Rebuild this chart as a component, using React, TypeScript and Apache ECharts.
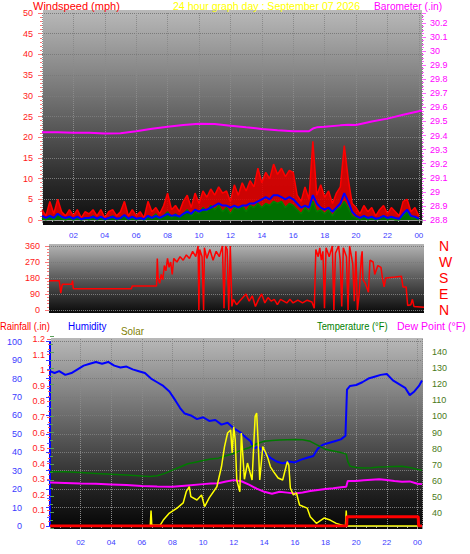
import React, { useEffect, useRef } from "react";
import * as echarts from "echarts";

// ---------- DATA ----------
const WIND_STEP_H = 0.25; // one sample every 15 minutes, from 00:00 to 24:00
const windGust = [
  2.5, 1.0, 4.5, 1.5, 5.0, 2.0, 1.0, 2.5, 1.0, 2.5, 0.5, 2.0, 1.5, 2.5, 1.0, 2.5,
  0.5, 2.0, 2.5, 1.0, 2.0, 4.5, 1.0, 2.5, 1.0, 2.0, 0.5, 4.5, 2.0, 3.0, 1.5, 3.5,
  6.5, 2.5, 3.5, 2.0, 4.5, 6.0, 3.0, 6.5, 4.0, 7.0, 5.5, 7.5, 6.0, 8.0, 6.5, 7.0,
  4.5, 8.5, 6.0, 9.0, 7.0, 9.5, 8.0, 12.5, 9.0, 11.5, 10.0, 13.5, 11.0, 12.5, 10.5, 12.0,
  11.5, 6.0, 4.5, 8.0, 5.0, 19.0, 6.0, 8.5, 5.5, 7.0, 4.0, 6.5, 8.0, 18.0, 10.0, 4.0,
  3.0, 1.5, 3.5, 2.0, 3.0, 1.0, 2.5, 3.5, 1.5, 3.0, 2.0, 1.0, 4.5, 5.0, 2.0, 3.0, 1.0,
];
const windAvg = [
  1.0, 0.5, 1.0, 0.5, 1.5, 0.8, 0.5, 0.8, 0.3, 0.8, 0.2, 0.5, 0.5, 0.8, 0.3, 0.8,
  0.2, 0.5, 0.8, 0.3, 0.5, 1.2, 0.3, 0.8, 0.3, 0.5, 0.2, 1.0, 0.5, 1.0, 0.5, 1.0,
  1.5, 1.0, 1.2, 0.8, 1.5, 2.0, 1.5, 2.5, 2.0, 2.5, 2.5, 3.0, 3.5, 4.0, 3.5, 3.5,
  3.0, 3.5, 3.0, 3.5, 3.5, 4.0, 4.0, 4.5, 5.0, 5.5, 5.0, 6.0, 6.0, 5.5, 5.0, 5.5,
  5.0, 4.0, 3.0, 3.5, 3.0, 6.0, 4.0, 3.0, 2.5, 3.0, 2.0, 3.0, 4.0, 6.5, 4.5, 2.0,
  1.0, 0.5, 1.0, 0.5, 0.8, 0.3, 0.5, 1.0, 0.5, 0.8, 0.5, 0.3, 1.5, 2.5, 1.0, 0.8, 0.3,
];
const windLow = [
  0.5, 0, 1.0, 0, 1.5, 0.5, 0, 0.5, 0, 0.5, 0, 0.5, 0, 1.0, 0, 0.5,
  0, 0.5, 1.0, 0, 0.5, 1.0, 0, 0.5, 0, 0.5, 0, 1.0, 0.5, 1.5, 0, 1.0,
  2.0, 0.5, 1.5, 0.5, 1.5, 2.5, 1.0, 2.0, 1.5, 3.0, 2.0, 3.5, 2.5, 3.5, 2.0, 3.0,
  1.5, 3.0, 2.5, 3.5, 2.0, 3.5, 3.0, 4.0, 3.0, 4.0, 3.5, 4.5, 4.0, 4.5, 3.0, 4.0,
  3.5, 2.5, 1.5, 3.0, 2.0, 4.5, 2.0, 2.5, 1.5, 2.5, 1.0, 2.5, 3.0, 4.5, 3.0, 1.0,
  0.5, 0, 1.0, 0, 0.5, 0, 0.5, 1.0, 0, 0.5, 0, 0, 1.0, 2.0, 0.5, 0.5, 0,
];

const baroTimes = [0, 1, 2, 3, 4, 5, 6, 7, 8, 9, 10, 11, 12, 13, 14, 15, 16, 17, 17.3, 17.5, 18, 19, 19.5, 20, 21, 22, 23, 24.2];
const baroValues = [
  29.423, 29.423, 29.42, 29.42, 29.415, 29.416, 29.43, 29.448, 29.462, 29.475,
  29.484, 29.482, 29.47, 29.458, 29.447, 29.438, 29.43, 29.43,
  29.452, 29.458, 29.462, 29.472, 29.476, 29.474, 29.5, 29.52, 29.548, 29.578,
];

const dirTimes = [
  0.45, 1.1, 1.2, 1.3, 1.9, 1.95, 2.0, 5.7, 5.75, 7.3,
  7.35, 7.4, 7.5, 7.6, 7.7, 7.8, 7.9, 8.0, 8.1, 8.2,
  8.3, 8.4, 8.6, 8.8, 9.0, 9.2, 9.4, 9.6, 9.8, 9.95,
  10.0, 10.05, 10.2, 10.3, 10.35, 10.5, 10.7, 10.9, 11.1, 11.3,
  11.5, 11.6, 11.7, 11.8, 11.9, 12.0, 12.1, 12.2, 12.4, 12.6,
  12.8, 13.0, 13.2, 13.4, 13.6, 13.8, 14.0, 14.2, 14.4, 14.6,
  14.8, 15.0, 15.2, 15.4, 15.6, 15.8, 16.0, 16.3, 16.6, 16.9,
  17.2, 17.35, 17.45, 17.6, 17.7, 17.8, 17.9, 18.0, 18.1, 18.3,
  18.5, 18.6, 18.7, 18.9, 19.0, 19.1, 19.2, 19.4, 19.5, 19.6,
  19.8, 19.9, 20.0, 20.1, 20.2, 20.35, 20.4, 20.45, 20.6, 20.8,
  20.9, 21.1, 21.2, 21.4, 21.6, 21.7, 21.8, 21.9, 22.5, 22.9,
  23.0, 23.2, 23.3, 23.5, 23.6, 23.7, 24.34,
];
const dirValues = [
  165, 165, 95, 145, 145, 165, 120, 120, 135, 135,
  290, 180, 150, 200, 170, 250, 220, 290, 240, 270,
  200, 290, 270, 300, 280, 310, 290, 330, 300, 360,
  0, 340, 300, 0, 350, 290, 340, 280, 330, 300,
  360, 10, 360, 340, 0, 360, 20, 60, 30, 50,
  70, 90, 50, 80, 20, 60, 90, 40, 70, 50,
  60, 30, 60, 50, 40, 60, 40, 55, 40, 55,
  45, 10, 340, 300, 350, 280, 330, 10, 350, 300,
  360, 0, 320, 360, 280, 20, 350, 300, 0, 360,
  260, 50, 330, 0, 80, 300, 330, 170, 150, 100,
  280, 270, 200, 250, 240, 175, 130, 180, 185, 190,
  130, 130, 25, 30, 60, 20, 15,
];

const humTimes = [
  0, 0.3, 0.6, 1, 1.4, 1.8, 2.2, 2.6, 3, 3.4, 3.8, 4.2, 4.6, 5, 5.4, 5.8, 6.2, 6.6, 7, 7.4,
  7.8, 8.2, 8.5, 8.8, 9.2, 9.6, 10, 10.4, 10.8, 11.2, 11.6, 12, 12.4, 12.8, 13.1, 13.3, 13.6, 14, 14.4, 14.8,
  15.2, 15.6, 16, 16.4, 16.8, 17.2, 17.5, 17.8, 18.2, 18.6, 19, 19.3, 19.4, 19.6, 20, 20.4, 20.8, 21.2, 21.6, 22,
  22.4, 22.8, 23.2, 23.5, 23.8, 24.1, 24.3,
];
const humValues = [
  84, 83, 84, 82, 83, 85, 87, 88, 89, 88, 89, 87, 86, 86.5, 85, 84, 83, 80, 78, 76,
  73, 68, 64, 61, 60, 58, 59, 57, 57.5, 55, 56, 53, 51, 48, 46, 42, 43, 40, 37, 35,
  34, 35, 34.5, 36, 37, 38, 42, 44, 45, 46, 47, 49, 74, 76, 76.5, 78, 80, 81, 82, 82.5,
  79, 77, 75, 71, 73, 76, 79,
];

const tempTimes = [
  0, 1, 2, 3, 4, 5, 6, 6.5, 7, 7.5, 8, 8.5, 9, 9.5, 10, 10.5, 11, 11.5, 12, 12.5, 13,
  13.5, 14, 14.5, 15, 15.5, 16, 16.5, 17, 17.5, 18, 18.5, 19, 19.35, 19.45, 19.6, 20,
  20.5, 21, 21.5, 22, 22.5, 23, 23.5, 24, 24.3,
];
const tempValues = [
  65.5, 65.5, 65, 64.5, 64, 63.5, 62.8, 62.5, 63, 64.5, 66.5, 68.5, 70.5, 71.5, 72.5, 73.5, 74, 75.5, 77, 79, 80.5,
  83, 84.5, 85, 85.3, 85.5, 85.7, 85.5, 84.5, 82, 79.5, 78.5, 77.5, 76.5, 72, 69, 68.2,
  67.8, 68, 68.5, 68.6, 68.8, 69, 68.2, 67, 66.5,
];

const dewTimes = [
  0, 1, 2, 3, 4, 5, 6, 7, 8, 9, 10, 10.5, 11, 11.5, 12, 12.5, 13, 13.5, 14, 14.5, 15,
  15.5, 16, 16.5, 17, 17.5, 18, 18.5, 19, 19.35, 19.45, 20, 20.5, 21, 21.5, 22, 22.5, 23, 23.5, 24, 24.3,
];
const dewValues = [
  58.8, 58.5, 58.2, 58, 57.6, 57.2, 56.6, 56.3, 56.2, 57, 57.8, 58.2, 58.4, 59.5, 60.3, 59.6, 57.5, 55, 53, 51.8, 53,
  52.5, 52, 52.6, 53.5, 54.2, 54.8, 55.2, 55.8, 56.2, 59.7, 59.8, 60.2, 60.6, 60.8, 60.4, 59.8, 59.3, 59.5, 58, 57.8,
];

const solarTimes = [
  0, 6.55, 6.6, 6.65, 7.2, 7.4, 7.8, 8.3, 8.7, 8.9,
  9.1, 9.2, 9.6, 9.9, 10.1, 10.4, 10.9, 11.2, 11.4, 11.6,
  11.8, 11.9, 12, 12.1, 12.2, 12.4, 12.5, 12.7, 12.9, 13.2,
  13.4, 13.5, 13.6, 13.7, 13.9, 14.2, 14.4, 14.6, 14.9, 15.2,
  15.5, 15.6, 15.7, 15.9, 16.1, 16.3, 16.8, 17, 17.4, 17.9,
  18.3, 18.7, 19.2, 19.3, 19.35, 19.4, 24.3,
];
const solarValues = [
  0, 0, 100, 5, 6, 38, 83, 115, 148, 220,
  252, 188, 167, 199, 124, 180, 252, 380, 509, 597,
  616, 468, 637, 552, 295, 220, 597, 300, 404, 295,
  702, 725, 533, 295, 509, 445, 380, 349, 308, 295,
  413, 390, 244, 199, 212, 135, 115, 60, 17, 51,
  38, 17, 2, 0, 100, 0, 0,
];

const rainTimes = [0, 19.38, 19.4, 24.05, 24.08, 24.3];
const rainValues = [0, 0, 0.06, 0.06, 0, 0];

const compassLabels: Record<number, string> = { 0: "N", 90: "E", 180: "S", 270: "W", 360: "N" };

// ---------- HELPERS ----------
const FONT = "'Liberation Sans', Arial, sans-serif";
const pairs = (t: number[], v: number[]) => t.map((x, i) => [x, v[i]]);
const windPairs = (v: number[]) => v.map((y, i) => [i * WIND_STEP_H, y]);
const hourLabel = (v: number) => {
  if (v <= 0 || Math.abs(v / 2 - Math.round(v / 2)) > 1e-6) return "";
  return String(Math.round(v) % 24).padStart(2, "0");
};
const decLabel = (v: number) => {
  if (Math.abs(v * 10 - Math.round(v * 10)) > 1e-4) return "";
  return String(Number(v.toFixed(1)));
};
const grad = (stops: [number, string][]) =>
  new echarts.graphic.LinearGradient(0, 0, 0, 1, stops.map(([offset, color]) => ({ offset, color })));

const dotted = (color = "#8a8a8a") => ({ show: true, lineStyle: { color, type: "dotted" as const, width: 1 } });

export default function App() {
  const ref = useRef<HTMLDivElement>(null);
  useEffect(() => {
    if (!ref.current) return;
    const chart = echarts.init(ref.current, undefined, { renderer: "svg" });

    const hourAxis = (gridIndex: number, min: number, max: number, labels: boolean, margin: number) => ({
      type: "value" as const,
      gridIndex,
      min,
      max,
      interval: 2,
      axisLabel: { show: labels, formatter: hourLabel, color: "#3c3cff", fontSize: 8, margin, fontFamily: FONT },
      axisLine: { show: labels, lineStyle: { color: "#9a9a9a" } },
      axisTick: { show: labels, length: 3, lineStyle: { color: "#9a9a9a" } },
      minorTick: { show: labels, splitNumber: 3, length: 2, lineStyle: { color: "#aaaaaa" } },
      splitLine: labels ? dotted() : { show: false },
    });

    const option: any = {
      animation: false,
      backgroundColor: "#ffffff",
      textStyle: { fontFamily: FONT },
      grid: [
        { left: 42, top: 13, width: 380, height: 207 },
        { left: 49, top: 246, width: 375, height: 64 },
        { left: 50, top: 339, width: 372, height: 187 },
        { left: 50, top: 341.7, width: 372, height: 184.3 },
        { left: 50, top: 336.3, width: 372, height: 192.4 },
      ],
      graphic: [
        { type: "rect", z: -10, shape: { x: 43, y: 10, width: 379, height: 215 },
          style: { fill: grad([[0, "#b9b9b9"], [0.45, "#6a6a6a"], [0.8, "#2a2a2a"], [1, "#0c0c0c"]]) } },
        { type: "rect", z: -10, shape: { x: 49, y: 244, width: 375, height: 69 },
          style: { fill: grad([[0, "#b5b5b5"], [0.5, "#5a5a5a"], [1, "#0a0a0a"]]) } },
        { type: "rect", z: -10, shape: { x: 51, y: 338, width: 372, height: 191 },
          style: { fill: grad([[0, "#b8b8b8"], [0.45, "#646464"], [0.8, "#222222"], [1, "#050505"]]) } },
        { type: "text", x: 33, y: 6, style: { text: "Windspeed (mph)", fill: "#ff0000", font: `11px ${FONT}`, align: "left", verticalAlign: "middle", textAlign: "left", textVerticalAlign: "middle" } },
        { type: "text", x: 173, y: 6, scaleX: 0.96, style: { text: "24 hour graph day : September 07 2026", fill: "#ffff00", font: `11px ${FONT}`, align: "left", verticalAlign: "middle", textAlign: "left", textVerticalAlign: "middle" } },
        { type: "text", x: 374, y: 6, scaleX: 0.93, style: { text: "Barometer (.in)", fill: "#ff00ff", font: `11px ${FONT}`, align: "left", verticalAlign: "middle", textAlign: "left", textVerticalAlign: "middle" } },
        { type: "text", x: 0, y: 326, scaleX: 0.85, style: { text: "Rainfall (.in)", fill: "#ff0000", font: `11px ${FONT}`, align: "left", verticalAlign: "middle", textAlign: "left", textVerticalAlign: "middle" } },
        { type: "text", x: 68, y: 326, scaleX: 0.9, style: { text: "Humidity", fill: "#0000ff", font: `11px ${FONT}`, align: "left", verticalAlign: "middle", textAlign: "left", textVerticalAlign: "middle" } },
        { type: "text", x: 121, y: 331, scaleX: 0.9, style: { text: "Solar", fill: "#808000", font: `11px ${FONT}`, align: "left", verticalAlign: "middle", textAlign: "left", textVerticalAlign: "middle" } },
        { type: "text", x: 317, y: 326, scaleX: 0.85, style: { text: "Temperature (°F)", fill: "#008000", font: `11px ${FONT}`, align: "left", verticalAlign: "middle", textAlign: "left", textVerticalAlign: "middle" } },
        { type: "text", x: 397, y: 326, scaleX: 0.96, style: { text: "Dew Point (°F)", fill: "#ff00ff", font: `11px ${FONT}`, align: "left", verticalAlign: "middle", textAlign: "left", textVerticalAlign: "middle" } },
      ],
      xAxis: [
        hourAxis(0, 0, 24.2, true, 11),
        hourAxis(1, 0.45, 24.34, false, 0),
        hourAxis(2, 0, 24.3, true, 12),
        hourAxis(3, 0, 24.3, false, 0),
        hourAxis(4, 0, 24.3, false, 0),
      ],
      yAxis: [
        { // 0 wind speed
          type: "value", gridIndex: 0, position: "left", min: 0, max: 50, interval: 5,
          axisLabel: { color: "#ff1a1a", fontSize: 9, margin: 9 },
          axisLine: { show: false },
          axisTick: { show: true, length: 4, lineStyle: { color: "#ff7878" } },
          minorTick: { show: true, splitNumber: 5, length: 2, lineStyle: { color: "#ff7878" } },
          splitLine: dotted("#7a7a7a"),
        },
        { // 1 barometer
          type: "value", gridIndex: 0, position: "right", min: 28.8, max: 30.27, interval: 0.1,
          axisLabel: { color: "#ff00ff", fontSize: 9, margin: 8, formatter: decLabel, showMaxLabel: false },
          axisLine: { show: false },
          axisTick: { show: true, length: 4, lineStyle: { color: "#ff66ff" } },
          minorTick: { show: true, splitNumber: 4, length: 2, lineStyle: { color: "#ff66ff" } },
          splitLine: { show: false },
        },
        { // 2 direction degrees
          type: "value", gridIndex: 1, position: "left", min: 0, max: 360, interval: 90,
          axisLabel: { color: "#ff1a1a", fontSize: 9, margin: 9 },
          axisLine: { show: false },
          axisTick: { show: true, length: 4, lineStyle: { color: "#ff7878" } },
          minorTick: { show: true, splitNumber: 5, length: 2, lineStyle: { color: "#ff7878" } },
          splitLine: dotted("#7a7a7a"),
        },
        { // 3 compass letters
          type: "value", gridIndex: 1, position: "right", min: 0, max: 360, interval: 90,
          axisLabel: { color: "#ff0000", fontSize: 14, margin: 15, formatter: (v: number) => compassLabels[v] ?? "" },
          axisLine: { show: false }, axisTick: { show: false }, splitLine: { show: false },
        },
        { // 4 rainfall
          type: "value", gridIndex: 2, position: "left", min: 0, max: 1.2, interval: 0.1,
          axisLabel: { color: "#ff1a1a", fontSize: 9, margin: 5, formatter: decLabel },
          axisLine: { show: false },
          axisTick: { show: true, length: 3, lineStyle: { color: "#ff6060" } },
          minorTick: { show: true, splitNumber: 3, length: 2, lineStyle: { color: "#ff6060" } },
          splitLine: { show: false },
        },
        { // 5 solar (hidden)
          type: "value", gridIndex: 2, min: 0, max: 1200, show: false,
        },
        { // 6 humidity
          type: "value", gridIndex: 3, position: "left", offset: 20, min: 0, max: 100, interval: 10,
          axisLabel: { color: "#3a3aff", fontSize: 9, margin: 8 },
          axisLine: { show: true, lineStyle: { color: "#0000ff", width: 2 } },
          axisTick: { show: true, length: 4, lineStyle: { color: "#3a3aff" } },
          minorTick: { show: true, splitNumber: 2, length: 3, lineStyle: { color: "#5a5aff" } },
          splitLine: dotted("#7a7a7a"),
        },
        { // 7 temperature / dew point
          type: "value", gridIndex: 4, position: "right", min: 30, max: 150, interval: 10,
          axisLabel: { color: "#4a7a1a", fontSize: 9, margin: 10, formatter: (v: number) => (v <= 30 || v >= 150 ? "" : String(v)) },
          axisLine: { show: false },
          axisTick: { show: true, length: 4, lineStyle: { color: "#5aa05a" } },
          minorTick: { show: true, splitNumber: 2, length: 3, lineStyle: { color: "#5aa05a" } },
          splitLine: { show: false },
        },
      ],
      series: [
        { name: "Barometer", type: "line", xAxisIndex: 0, yAxisIndex: 1, data: pairs(baroTimes, baroValues),
          showSymbol: false, lineStyle: { color: "#ff00ff", width: 2 } },
        { name: "Gust", type: "line", xAxisIndex: 0, yAxisIndex: 0, data: windPairs(windGust),
          showSymbol: false, lineStyle: { color: "#ff0000", width: 1.5 }, areaStyle: { color: "#e00000", opacity: 0.9 } },
        { name: "Low", type: "line", xAxisIndex: 0, yAxisIndex: 0, data: windPairs(windLow),
          showSymbol: false, lineStyle: { color: "#008000", width: 1.5 }, areaStyle: { color: "#007000", opacity: 1 } },
        { name: "Average", type: "line", xAxisIndex: 0, yAxisIndex: 0, data: windPairs(windAvg),
          showSymbol: false, lineStyle: { color: "#0000ff", width: 2 } },
        { name: "Direction", type: "line", xAxisIndex: 1, yAxisIndex: 2, data: pairs(dirTimes, dirValues),
          showSymbol: false, lineStyle: { color: "#ff0000", width: 1.5 } },
        { name: "Humidity", type: "line", xAxisIndex: 3, yAxisIndex: 6, data: pairs(humTimes, humValues),
          showSymbol: false, lineStyle: { color: "#0000ff", width: 2 } },
        { name: "Temperature", type: "line", xAxisIndex: 4, yAxisIndex: 7, data: pairs(tempTimes, tempValues),
          showSymbol: false, lineStyle: { color: "#007a00", width: 1.5 } },
        { name: "Dew Point", type: "line", xAxisIndex: 4, yAxisIndex: 7, data: pairs(dewTimes, dewValues),
          showSymbol: false, lineStyle: { color: "#ff00ff", width: 2 } },
        { name: "Solar", type: "line", xAxisIndex: 2, yAxisIndex: 5, data: pairs(solarTimes, solarValues),
          showSymbol: false, lineStyle: { color: "#ffff00", width: 1.5 } },
        { name: "Rainfall", type: "line", xAxisIndex: 2, yAxisIndex: 4, data: pairs(rainTimes, rainValues),
          showSymbol: false, lineStyle: { color: "#ff0000", width: 3 } },
      ],
    };

    chart.setOption(option);
    return () => chart.dispose();
  }, []);

  return (
    <div
      ref={ref}
      style={{ position: "absolute", left: 0, top: 0, width: 470, height: 554, background: "#ffffff" }}
    />
  );
}
